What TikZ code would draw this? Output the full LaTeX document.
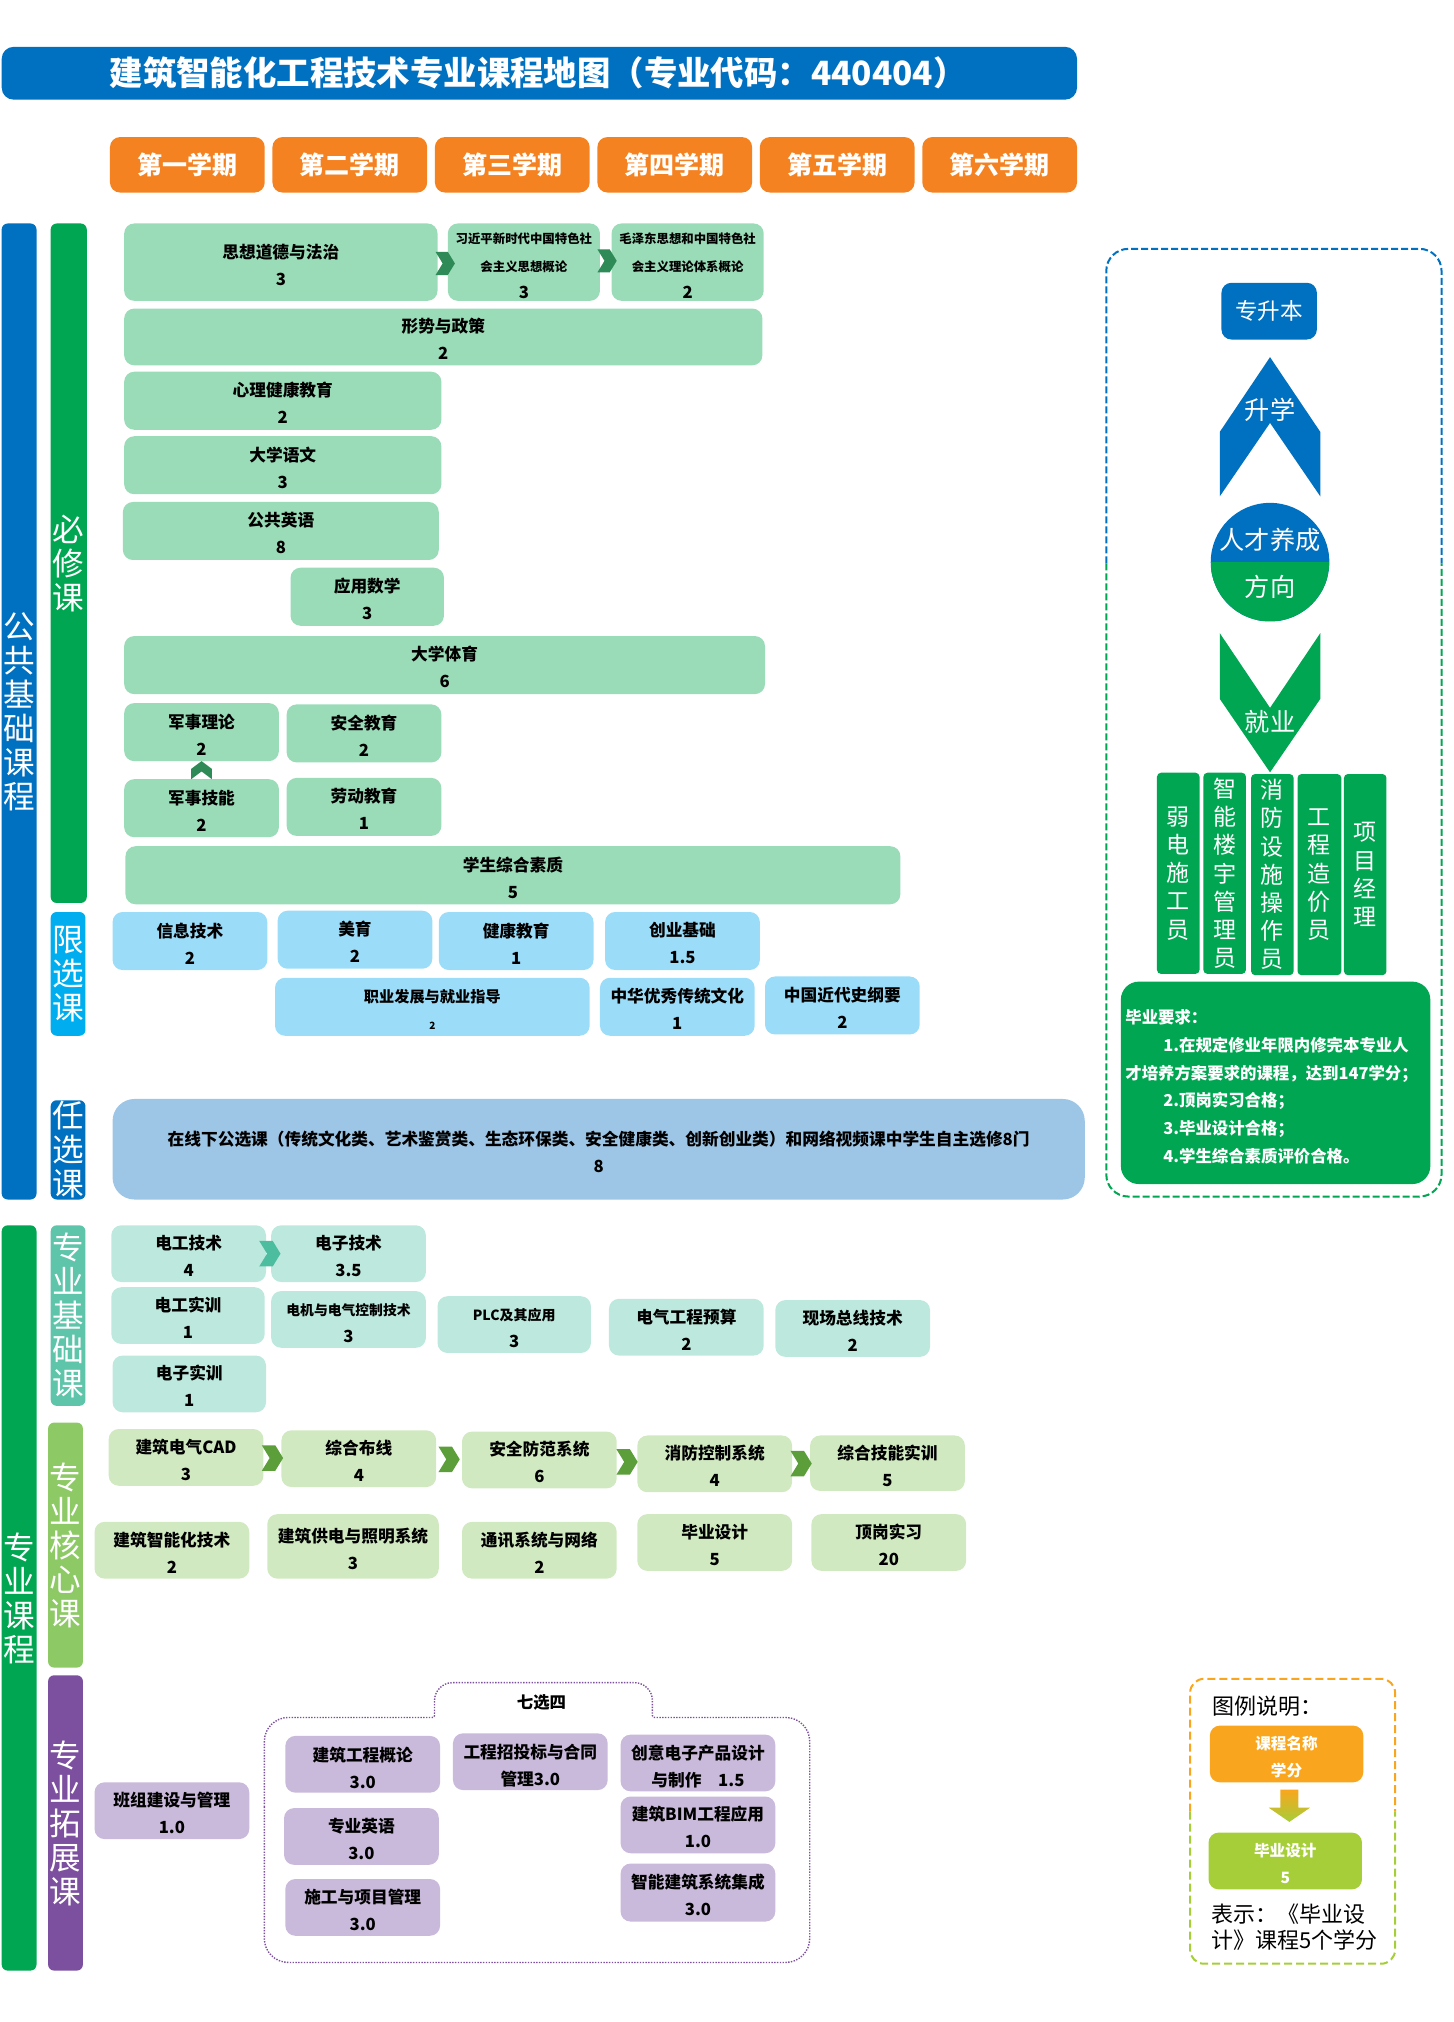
\documentclass[tikz,border=0pt]{standalone}
\usepackage{fontspec}
\setmainfont{Noto Sans CJK SC}
\usetikzlibrary{calc}
\definecolor{pblue}{HTML}{0070C0}
\definecolor{pgreen}{HTML}{00A651}
\definecolor{porange}{HTML}{F58220}
\definecolor{psky}{HTML}{00AEEF}
\definecolor{pteal}{HTML}{5EC4AA}
\definecolor{plime}{HTML}{8DC965}
\definecolor{ppurple}{HTML}{7D509F}
\definecolor{cgreen}{HTML}{9ADBB8}
\definecolor{csky}{HTML}{9BDDF9}
\definecolor{cblue}{HTML}{9DC6E6}
\definecolor{cteal}{HTML}{BDE8DD}
\definecolor{clime}{HTML}{D0E9C0}
\definecolor{cpurple}{HTML}{C9B9DA}
\definecolor{korange}{HTML}{F9A61E}
\definecolor{klime}{HTML}{A6CE39}
\definecolor{darkchev}{HTML}{2E8B57}
\definecolor{tealchev}{HTML}{4DBDA0}
\definecolor{limechev}{HTML}{5B9E3A}
\newcommand{\un}{0.6447pt}
\tikzset{
  cbox/.style 2 args={rectangle, rounded corners=5pt, anchor=north west, inner sep=0pt, align=center,
    minimum width=#1*\un, minimum height=#2*\un, font=\bfseries\fontsize{8.35}{13.5}\selectfont},
  low/.style={execute at begin node={\rule{0pt}{#1}}},
  course/.style n args={3}{cbox={#1}{#2}, fill=#3, low=23pt},
  gcourse/.style 2 args={course={#1}{#2}{cgreen}},
  scourse/.style 2 args={course={#1}{#2}{csky}},
  tcourse/.style 2 args={course={#1}{#2}{cteal}},
  lcourse/.style 2 args={course={#1}{#2}{clime}},
  vcourse/.style 2 args={course={#1}{#2}{cpurple}},
  term/.style={cbox={120}{43}, fill=porange, text=white, font=\bfseries\fontsize{12.5}{15}\selectfont},
  bar/.style 2 args={rectangle, rounded corners=3pt, anchor=north west, inner sep=0pt, align=center, text=white,
    minimum width=27*\un, minimum height=#1*\un, fill=#2, font=\fontsize{15.8}{17}\selectfont},
  job/.style 2 args={bar={156}{pgreen}, minimum width=#1*\un, font=\fontsize{11.5}{#2}\selectfont, rounded corners=2pt},
  lab/.style={inner sep=0pt, text=white, font=\fontsize{12.6}{15}\selectfont},
  key/.style={cbox={119}{44}, low=23pt, text=white, font=\bfseries\fontsize{7.8}{13.5}\selectfont},
  chevr/.pic={\fill[pic actions] (-7.5,-9) -- (2,-9) -- (7.5,0) -- (2,9) -- (-7.5,9) -- (-2,0) -- cycle;},
  chevu/.pic={\fill[pic actions] (-8,7) -- (-8,-1) -- (0,-7) -- (8,-1) -- (8,7) -- (0,1) -- cycle;}
}
\begin{document}
\begin{tikzpicture}[x=\un, y=-\un]
  \useasboundingbox (0,0) rectangle (1127.65,1568.2);
  \node[cbox={834}{41}, fill=pblue, text=white, rounded corners=6pt, font=\bfseries\fontsize{16.7}{20}\selectfont] (title) at (1,36) {建筑智能化工程技术专业课程地图（专业代码：440404）\hspace*{1.3pt}};
  \node[term] (t1) at (85,106) {第一学期};
  \node[term] (t2) at (211,106) {第二学期};
  \node[term] (t3) at (337,106) {第三学期};
  \node[term] (t4) at (463,106) {第四学期};
  \node[term] (t5) at (589,106) {第五学期};
  \node[term] (t6) at (715,106) {第六学期};

  \node[bar={757}{pblue}] (ggjc) at (1,173) {公\\共\\基\\础\\课\\程};
  \node[bar={527}{pgreen}, minimum width=28*\un] (bxk) at (39,173) {必\\修\\课};
  \node[bar={96}{psky}] (xxk) at (39,707) {限\\选\\课};
  \node[bar={77}{pblue}] (rxk) at (39,853) {任\\选\\课};
  \node[bar={578}{pgreen}] (zykc) at (1,950) {专\\业\\课\\程};
  \node[bar={140}{pteal}] (zyjc) at (39,950) {专\\业\\基\\础\\课};
  \node[bar={190}{plime}] (zyhx) at (37,1103) {专\\业\\核\\心\\课};
  \node[bar={229}{ppurple}] (zytz) at (37,1299) {专\\业\\拓\\展\\课};

  \node[gcourse={243}{60}] (szdd) at (96,173) {思想道德与法治\\3};
  \node[gcourse={118}{60}, low=36.6pt, font=\bfseries\fontsize{6.2}{13.8}\selectfont] (xjp) at (347,173) {习近平新时代中国特色社\\会主义思想概论\\{\fontsize{8.35}{13.5}\selectfont 3}};
  \node[gcourse={118}{60}, low=36.6pt, font=\bfseries\fontsize{6.2}{13.8}\selectfont] (mzd) at (474,173) {毛泽东思想和中国特色社\\会主义理论体系概论\\{\fontsize{8.35}{13.5}\selectfont 2}};
  \node[gcourse={495}{44}] (xszc) at (96,239) {形势与政策\\2};
  \node[gcourse={246}{45}] (xljk) at (96,288) {心理健康教育\\2};
  \node[gcourse={246}{45}] (dxyw) at (96,338) {大学语文\\3};
  \node[gcourse={245}{45}] (ggyy) at (95,389) {公共英语\\8};
  \node[gcourse={119}{45}] (yysx) at (225,440) {应用数学\\3};
  \node[gcourse={497}{45}] (dxty) at (96,493) {大学体育\\6};
  \node[gcourse={120}{45}] (jsll) at (96,545) {军事理论\\2};
  \node[gcourse={120}{45}] (aqjy) at (222,546) {安全教育\\2};
  \node[gcourse={120}{45}] (jsjn) at (96,604) {军事技能\\2};
  \node[gcourse={120}{45}] (ldjy) at (222,603) {劳动教育\\1};
  \node[gcourse={601}{45}] (xszh) at (97,656) {学生综合素质\\5};

  \node[scourse={120}{45}] (xxjs) at (87,707) {信息技术\\2};
  \node[scourse={120}{45}] (my) at (215,706) {美育\\2};
  \node[scourse={120}{45}] (jkjy) at (340,707) {健康教育\\1};
  \node[scourse={120}{45}] (cyjc) at (469,707) {创业基础\\1.5};
  \node[scourse={244}{45}, font=\bfseries\fontsize{7.6}{13.5}\selectfont] (zyfz) at (213,758) {职业发展与就业指导\\{\fontsize{5}{13.5}\selectfont 2}};
  \node[scourse={120}{45}] (zhyx) at (465,758) {中华优秀传统文化\\1};
  \node[scourse={120}{45}] (zgjd) at (593,757) {中国近代史纲要\\2};
  \node[course={754}{78}{cblue}, rounded corners=11pt] (rxnr) at (87,852) {在线下公选课（传统文化类、艺术鉴赏类、生态环保类、安全健康类、创新创业类）和网络视频课中学生自主选修8门\\8};

  \node[tcourse={120}{44}] (dgjs) at (86,950) {电工技术\\4};
  \node[tcourse={120}{44}] (dzjs) at (210,950) {电子技术\\3.5};
  \node[tcourse={119}{44}] (dgsx) at (86,998) {电工实训\\1};
  \node[tcourse={120}{44}, font=\bfseries\fontsize{6.9}{13.5}\selectfont] (djkz) at (210,1001) {电机与电气控制技术\\{\fontsize{8.35}{13.5}\selectfont 3}};
  \node[tcourse={119}{44}, font=\bfseries\fontsize{7}{13.5}\selectfont] (plc) at (339,1005) {PLC及其应用\\{\fontsize{8.35}{13.5}\selectfont 3}};
  \node[tcourse={120}{44}] (dqys) at (472,1007) {电气工程预算\\2};
  \node[tcourse={120}{44}] (xczx) at (601,1008) {现场总线技术\\2};
  \node[tcourse={119}{44}] (dzsx) at (87,1051) {电子实训\\1};

  \node[lcourse={120}{44}] (cad) at (84,1108) {建筑电气CAD\\3};
  \node[lcourse={120}{44}] (zhbx) at (218,1109) {综合布线\\4};
  \node[lcourse={120}{44}] (aqff) at (358,1110) {安全防范系统\\6};
  \node[lcourse={120}{44}] (xfkz) at (494,1113) {消防控制系统\\4};
  \node[lcourse={120}{43}] (zhjn) at (628,1113) {综合技能实训\\5};
  \node[lcourse={120}{44}] (znh) at (73,1180) {建筑智能化技术\\2};
  \node[lcourse={133}{50}] (gdzm) at (207,1174) {建筑供电与照明系统\\3};
  \node[lcourse={120}{44}] (txxt) at (358,1180) {通讯系统与网络\\2};
  \node[lcourse={120}{44}] (bysj) at (494,1174) {毕业设计\\5};
  \node[lcourse={120}{44}] (dgsxi) at (629,1174) {顶岗实习\\20};

  \node[vcourse={120}{44}] (bzjs) at (73,1382) {班组建设与管理\\1.0};
  \node[vcourse={120}{44}, low=24.6pt] (jzgc) at (221,1346) {建筑工程概论\\3.0};
  \node[vcourse={120}{44}, low=24.6pt] (zbtb) at (351,1344) {工程招投标与合同\\管理3.0};
  \node[vcourse={120}{44}, low=24.6pt] (cydz) at (481,1345) {创意电子产品设计\\与制作\quad 1.5};
  \node[vcourse={120}{44}] (zyyy) at (220,1402) {专业英语\\3.0};
  \node[vcourse={120}{44}] (bim) at (481,1393) {建筑BIM工程应用\\1.0};
  \node[vcourse={120}{44}] (sgxm) at (221,1457) {施工与项目管理\\3.0};
  \node[vcourse={120}{45}] (znjz) at (481,1445) {智能建筑系统集成\\3.0};
  \draw[ppurple, dash pattern=on 0.7pt off 0.7pt, line width=0.7pt] (205,1420) [rounded corners=12pt] -- (205,1332) [rounded corners=1pt] -- (337,1332) [rounded corners=9pt] -- (337,1305) -- (506,1305) [rounded corners=1pt] -- (506,1332) [rounded corners=12pt] -- (628,1332) -- (628,1522) -- (205,1522) -- cycle;
  \node[inner sep=0pt, font=\bfseries\fontsize{8.2}{10}\selectfont] (qxs) at (420,1320) {七选四};

  \pic[darkchev] at ($(szdd.east)!.5!(xjp.west)+(2,1)$) {chevr};
  \pic[darkchev] at ($(xjp.east)!.5!(mzd.west)+(1,-1)$) {chevr};
  \pic[darkchev] at ($(jsll.south)!.5!(jsjn.north)$) {chevu};
  \pic[tealchev, scale=1.1] at ($(dgjs.east)!.5!(dzjs.west)+(1,0)$) {chevr};
  \pic[limechev, scale=1.1] at ($(cad.east)!.5!(zhbx.west)$) {chevr};
  \pic[limechev, scale=1.1] at ($(zhbx.east)!.5!(aqff.west)$) {chevr};
  \pic[limechev, scale=1.1] at ($(aqff.east)!.5!(xfkz.west)$) {chevr};
  \pic[limechev, scale=1.1] at ($(xfkz.east)!.5!(zhjn.west)$) {chevr};

  \draw[pblue, line width=1pt, dash pattern=on 3.5pt off 1.5pt, rounded corners=11pt] (858,437) -- (858,193) -- (1118,193) -- (1118,437);
  \draw[pgreen, line width=1pt, dash pattern=on 3.5pt off 1.5pt, rounded corners=11pt] (858,437) -- (858,928) -- (1118,928) -- (1118,437);
  \node[cbox={74}{44}, fill=pblue, text=white, font=\fontsize{11.3}{14}\selectfont] (zsb) at (947,219) {专升本};
  \fill[pblue] (985,277) -- (1024,335) -- (1024,385) -- (985,328) -- (946,385) -- (946,335) -- cycle;
  \node[lab] (sx) at (985,318) {升学};
  \node[circle, fill=pblue, inner sep=0pt, minimum size=92*\un, path picture={\fill[pgreen] (path picture bounding box.west) rectangle (path picture bounding box.south east);}] (rcyc) at (985,436) {};
  \node[lab] (rc) at (985,419) {人才养成};
  \node[lab] (fx) at (985,455) {方向};
  \fill[pgreen] (946,491) -- (985,549) -- (1024,491) -- (1024,542) -- (985,599) -- (946,542) -- cycle;
  \node[lab] (jy) at (985,560) {就业};
  \node[job={33}{14.1}] (rd) at (897,599) {弱\\电\\施\\工\\员};
  \node[job={33}{14.1}] (zn) at (933,599) {智\\能\\楼\\宇\\管\\理\\员};
  \node[job={33}{14.1}] (xf) at (970,600) {消\\防\\设\\施\\操\\作\\员};
  \node[job={34}{14.1}] (gc) at (1006,600) {工\\程\\造\\价\\员};
  \node[job={33}{14.1}] (xm) at (1042,600) {项\\目\\经\\理};
  \node[cbox={240}{157}, fill=pgreen, text=white, rounded corners=9pt, align=left, text width=233*\un, low=11pt, font=\bfseries\fontsize{8.2}{13.9}\selectfont] (byyq) at (869,761) {毕业要求：\\\hspace*{19pt}1.在规定修业年限内修完本专业人\\才培养方案要求的课程，达到147学分；\\\hspace*{19pt}2.顶岗实习合格；\\\hspace*{19pt}3.毕业设计合格；\\\hspace*{19pt}4.学生综合素质评价合格。};

  \draw[korange, line width=1pt, dash pattern=on 4pt off 2pt, rounded corners=7pt] (923,1405) -- (923,1302) -- (1082,1302) -- (1082,1405);
  \draw[klime, line width=1pt, dash pattern=on 4pt off 2pt, rounded corners=7pt] (923,1405) -- (923,1523) -- (1082,1523) -- (1082,1405);
  \node[inner sep=0pt, anchor=west, font=\fontsize{11}{13}\selectfont] (tlsm) at (940,1323) {图例说明：};
  \node[key, fill=korange] (kc) at (938,1338) {课程名称\\学分};
  \shade[top color=korange, bottom color=klime, shading angle=0] (993,1388) -- (1007,1388) -- (1007,1402) -- (1016,1402) -- (1000,1413) -- (984,1402) -- (993,1402) -- cycle;
  \node[key, fill=klime] (kb) at (937,1421) {毕业设计\\5};
  \node[inner sep=0pt, anchor=north west, align=left, font=\fontsize{11}{13.1}\selectfont] (bs) at (939,1476) {表示：《毕业设\\计》课程5个学分};
\end{tikzpicture}
\end{document}
